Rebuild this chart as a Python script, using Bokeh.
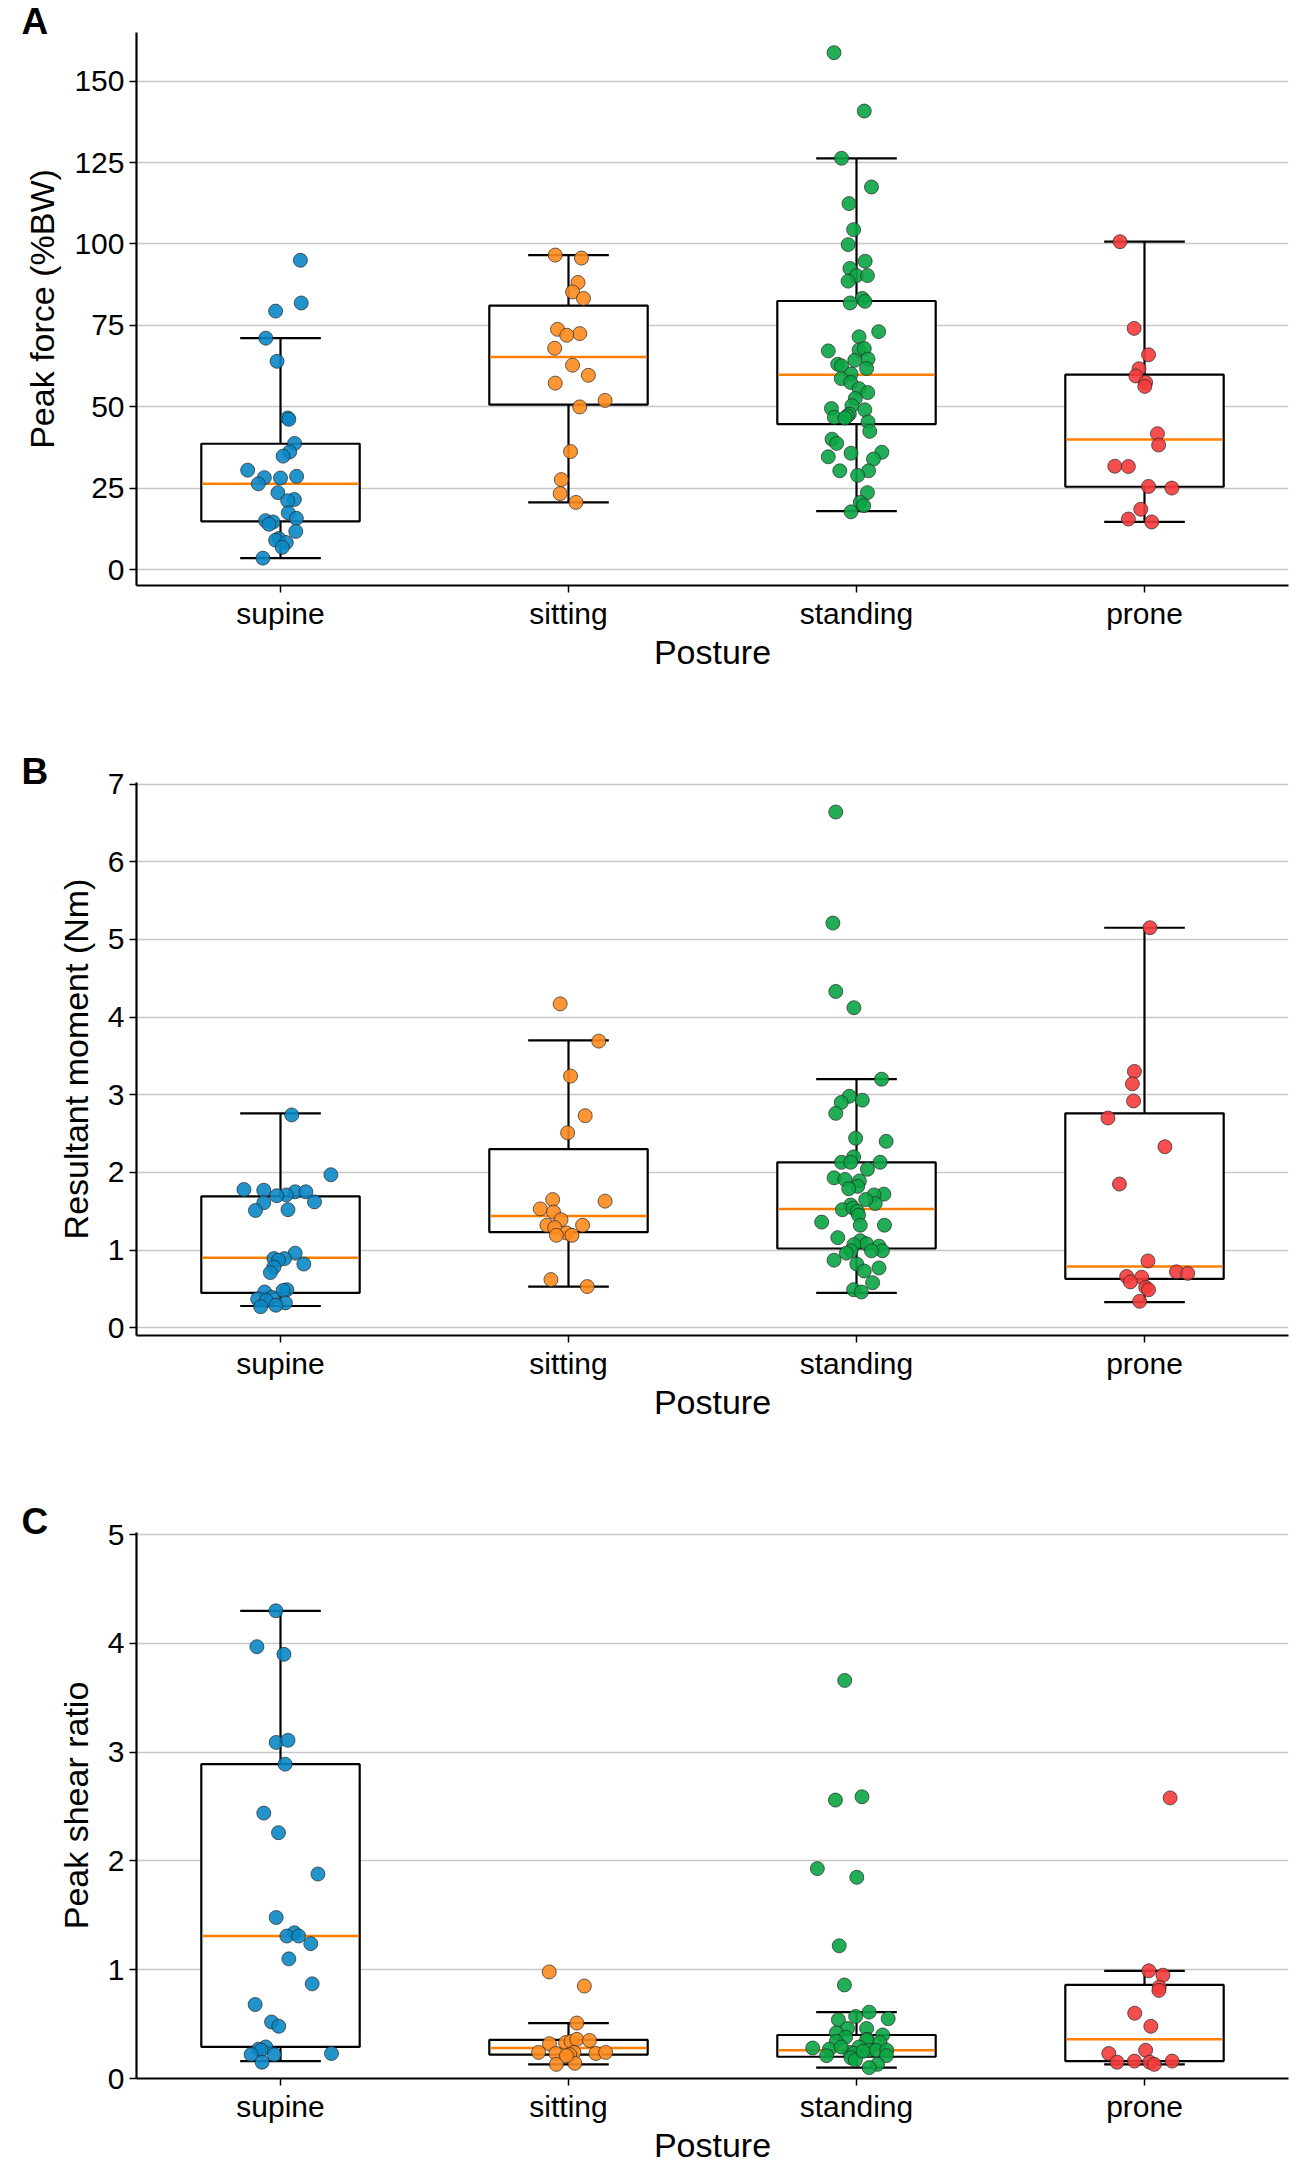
from bokeh.plotting import figure
from bokeh.models import FactorRange, Range1d, FixedTicker, ColumnDataSource, Title
from bokeh.layouts import column
from bokeh.embed import file_html
from bokeh.resources import INLINE

categories = ["supine", "sitting", "standing", "prone"]
colors = ["#0b87c5", "#ff8b1e", "#0aa544", "#f53b3b"]

# ---------------- Panel A: Peak force (%BW) ----------------
force_supine = [95.0, 81.9, 79.4, 71.1, 64.0, 46.6, 46.2, 38.8, 36.2, 34.9, 30.6, 28.3, 28.2, 28.7, 26.4,
                23.7, 21.6, 21.2, 17.5, 15.8, 15.1, 14.7, 14.0, 11.8, 9.6, 9.1, 8.4, 6.9, 3.6]
force_supine_jit = [0.069, 0.072, -0.017, -0.051, -0.012, 0.025, 0.029, 0.049, 0.032, 0.009, -0.114, -0.056, 0.0,
                    0.056, -0.077, -0.009, 0.048, 0.025, 0.027, 0.055, -0.052, -0.026, -0.040, 0.053, -0.006,
                    -0.017, 0.020, 0.006, -0.061]
force_sitting = [96.6, 95.7, 88.2, 85.3, 83.3, 73.8, 72.5, 72.0, 68.0, 62.8, 59.7, 57.3, 52.0, 50.0, 36.3, 27.7,
                 23.4, 20.7]
force_sitting_jit = [-0.046, 0.045, 0.033, 0.014, 0.052, -0.038, 0.039, -0.006, -0.048, 0.014, 0.069, -0.046,
                     0.127, 0.039, 0.007, -0.025, -0.029, 0.026]
force_standing = [158.7, 140.8, 126.3, 117.5, 112.4, 104.4, 99.8, 94.7, 92.5, 90.3, 90.3, 88.6, 83.3, 82.4, 81.9,
                  73.1, 71.5, 67.2, 67.5, 67.9, 64.7, 64.3, 63.1, 62.6, 61.8, 60.1, 58.7, 57.5, 55.6, 54.4, 52.6,
                  50.4, 49.5, 49.1, 47.8, 47.2, 46.8, 46.6, 45.4, 42.5, 40.1, 38.8, 36.1, 35.8, 34.0, 34.7, 30.4,
                  30.4, 29.0, 23.7, 20.7, 19.7, 17.8]
force_standing_jit = [-0.078, 0.027, -0.052, 0.052, -0.026, -0.010, -0.029, 0.030, -0.023, 0.0, 0.038, -0.029,
                      0.020, 0.029, -0.022, 0.077, 0.009, -0.098, 0.009, 0.027, 0.040, -0.006, -0.065, -0.052,
                      0.035, -0.019, -0.053, -0.020, 0.009, 0.039, -0.004, -0.016, -0.087, 0.029, -0.025, -0.032,
                      -0.077, -0.040, 0.040, 0.046, -0.085, -0.069, 0.088, -0.019, 0.059, -0.098, -0.058, 0.042,
                      0.004, 0.038, 0.013, 0.025, -0.019]
force_prone = [100.7, 74.1, 66.0, 61.7, 59.5, 57.5, 56.3, 41.8, 38.3, 31.8, 31.7, 25.6, 25.1, 18.6, 15.6, 14.7]
force_prone_jit = [-0.085, -0.036, 0.014, -0.019, -0.030, 0.004, 0.001, 0.045, 0.049, -0.103, -0.056, 0.014,
                   0.095, -0.013, -0.056, 0.025]
force_q1 = [14.9, 50.7, 44.7, 25.5]
force_med = [26.4, 65.3, 59.9, 40.0]
force_q3 = [38.7, 81.1, 82.5, 59.9]
force_lo = [3.6, 20.7, 18.0, 14.7]
force_hi = [71.1, 96.6, 126.3, 100.7]
force_ticks = [0, 25, 50, 75, 100, 125, 150]

# ---------------- Panel B: Resultant moment (Nm) ----------------
moment_supine = [2.74, 1.97, 1.78, 1.77, 1.75, 1.75, 1.71, 1.70, 1.61, 1.62, 1.51, 1.52, 0.96, 0.89, 0.89, 0.87,
                 0.82, 0.78, 0.71, 0.46, 0.49, 0.48, 0.37, 0.39, 0.35, 0.32, 0.27, 0.29]
moment_supine_jit = [0.039, 0.175, -0.127, -0.058, 0.051, 0.088, 0.020, -0.013, -0.058, 0.118, -0.087, 0.026,
                     0.051, -0.023, 0.014, -0.007, 0.081, -0.023, -0.035, -0.055, 0.022, 0.009, -0.079, -0.030,
                     -0.049, 0.017, -0.069, -0.016]
moment_sitting = [4.17, 3.69, 3.24, 2.73, 2.51, 1.65, 1.63, 1.53, 1.49, 1.39, 1.32, 1.32, 1.29, 1.22, 1.19, 1.19,
                  0.62, 0.53]
moment_sitting_jit = [-0.029, 0.105, 0.007, 0.058, -0.003, -0.055, 0.127, -0.098, -0.052, -0.026, -0.075, 0.049,
                      -0.048, -0.007, 0.012, -0.042, -0.061, 0.065]
moment_standing = [6.64, 5.21, 4.33, 4.12, 3.20, 2.98, 2.90, 2.93, 2.76, 2.44, 2.40, 2.20, 2.13, 2.13, 2.13, 2.04,
                   1.93, 1.91, 1.89, 1.82, 1.79, 1.72, 1.71, 1.60, 1.65, 1.58, 1.52, 1.54, 1.50, 1.45, 1.36, 1.32,
                   1.32, 1.16, 1.12, 1.08, 1.07, 1.05, 0.99, 0.99, 0.99, 0.96, 0.87, 0.82, 0.73, 0.77, 0.58, 0.49,
                   0.46]
moment_standing_jit = [-0.072, -0.082, -0.072, -0.009, 0.087, -0.025, -0.053, 0.020, -0.072, -0.003, 0.103,
                       -0.010, 0.082, -0.052, -0.020, 0.038, -0.078, -0.040, 0.010, 0.004, -0.027, 0.095, 0.061,
                       0.065, 0.032, -0.020, -0.049, -0.012, 0.003, 0.007, -0.121, 0.097, 0.013, -0.065, 0.013,
                       0.035, -0.009, 0.078, 0.090, 0.052, -0.019, -0.035, -0.078, 0.001, 0.027, 0.078, 0.056,
                       -0.010, 0.017]
moment_prone = [5.15, 3.30, 3.14, 2.92, 2.70, 2.33, 1.85, 0.86, 0.72, 0.70, 0.66, 0.65, 0.59, 0.52, 0.49, 0.34]
moment_prone_jit = [0.019, -0.035, -0.042, -0.038, -0.127, 0.071, -0.087, 0.012, 0.111, 0.150, -0.062, -0.010,
                    -0.049, 0.004, 0.014, -0.017]
moment_q1 = [0.45, 1.23, 1.02, 0.63]
moment_med = [0.90, 1.44, 1.53, 0.79]
moment_q3 = [1.69, 2.30, 2.13, 2.76]
moment_lo = [0.28, 0.53, 0.45, 0.33]
moment_hi = [2.76, 3.70, 3.20, 5.15]
moment_ticks = [0, 1, 2, 3, 4, 5, 6, 7]

# ---------------- Panel C: Peak shear ratio ----------------
shear_supine = [4.30, 3.97, 3.90, 3.09, 3.11, 2.89, 2.44, 2.26, 1.88, 1.48, 1.34, 1.31, 1.31, 1.24, 1.10, 0.87,
                0.68, 0.52, 0.48, 0.29, 0.27, 0.26, 0.22, 0.22, 0.23, 0.15]
shear_supine_jit = [-0.016, -0.082, 0.012, -0.015, 0.026, 0.016, -0.058, -0.007, 0.130, -0.015, 0.048, 0.022,
                    0.063, 0.105, 0.029, 0.110, -0.088, -0.031, -0.006, -0.051, -0.076, -0.067, -0.102, -0.022,
                    0.177, -0.064]
shear_sitting = [0.98, 0.85, 0.51, 0.32, 0.33, 0.34, 0.36, 0.35, 0.24, 0.23, 0.24, 0.22, 0.23, 0.24, 0.13, 0.14,
                 0.21]
shear_sitting_jit = [-0.067, 0.055, 0.029, -0.066, -0.010, 0.009, 0.029, 0.073, -0.104, -0.044, 0.019, 0.004,
                     0.095, 0.129, -0.042, 0.022, -0.007]
shear_standing = [3.66, 2.56, 2.59, 1.93, 1.85, 1.22, 0.86, 0.61, 0.57, 0.54, 0.55, 0.46, 0.42, 0.46, 0.40, 0.38,
                  0.36, 0.34, 0.355, 0.33, 0.28, 0.27, 0.29, 0.26, 0.26, 0.26, 0.24, 0.23, 0.21, 0.21, 0.19, 0.17,
                  0.13, 0.10, 0.25, 0.29]
shear_standing_jit = [-0.041, -0.073, 0.019, -0.136, 0.001, -0.060, -0.042, 0.044, -0.003, -0.063, 0.110, -0.031,
                      -0.070, 0.035, 0.091, -0.038, 0.038, -0.070, 0.035, 0.082, -0.152, -0.094, 0.009, 0.042,
                      0.069, 0.105, -0.023, -0.009, -0.104, 0.104, -0.019, -0.004, 0.073, 0.044, 0.023, -0.053]
shear_prone = [2.58, 0.99, 0.95, 0.84, 0.81, 0.60, 0.48, 0.26, 0.23, 0.16, 0.16, 0.15, 0.15, 0.13]
shear_prone_jit = [0.089, 0.015, 0.064, 0.051, 0.050, -0.034, 0.022, 0.004, -0.124, 0.096, -0.035, -0.095, 0.018,
                   0.034]
shear_q1 = [0.29, 0.22, 0.20, 0.16]
shear_med = [1.31, 0.28, 0.26, 0.36]
shear_q3 = [2.89, 0.355, 0.40, 0.86]
shear_lo = [0.16, 0.13, 0.10, 0.13]
shear_hi = [4.30, 0.51, 0.61, 0.99]
shear_ticks = [0, 1, 2, 3, 4, 5]

FONT = "Liberation Sans"
BOX_W = 0.55
CAP_W = 0.28


def letter_title(letter):
    kw = dict(text=letter, align="left", offset=-115, text_font=FONT,
              text_font_size="37px", text_font_style="bold", text_color="black")
    try:
        return Title(standoff=-18, **kw)
    except Exception:
        return Title(standoff=0, **kw)


def make_panel(letter, ylabel, yr, ticks, groups, jits, q1, med, q3, lo, hi, height, border_bottom):
    p = figure(x_range=FactorRange(*categories), y_range=Range1d(*yr), width=1300, height=height,
               output_backend="svg", toolbar_location=None,
               min_border_left=136, min_border_right=12, min_border_top=32, min_border_bottom=border_bottom)
    p.outline_line_color = None
    p.background_fill_color = "white"
    p.xgrid.visible = False
    p.ygrid.grid_line_color = "#c8c8c8"
    p.ygrid.grid_line_width = 1.5
    p.yaxis.ticker = FixedTicker(ticks=ticks)

    for ax in (p.xaxis[0], p.yaxis[0]):
        ax.axis_line_width = 2.2
        ax.axis_line_color = "black"
        ax.major_tick_out = 7
        ax.major_tick_in = 0
        ax.major_tick_line_width = 1.5
        ax.major_tick_line_color = "black"
        ax.minor_tick_line_color = None
        ax.major_label_text_font = FONT
        ax.major_label_text_font_size = "30px"
        ax.major_label_text_color = "black"
        ax.axis_label_text_font = FONT
        ax.axis_label_text_font_size = "34px"
        ax.axis_label_text_font_style = "normal"
        ax.axis_label_text_color = "black"
    p.yaxis.axis_label = ylabel
    p.yaxis.major_label_standoff = 5
    p.yaxis.axis_label_standoff = 10
    p.xaxis.axis_label = "Posture"
    p.xaxis.major_label_standoff = 4
    p.xaxis.axis_label_standoff = 0

    # boxes
    p.vbar(x=categories, bottom=q1, top=q3, width=BOX_W, fill_color="white", line_color="black", line_width=2.2)
    # whisker stems
    p.segment(x0=categories, x1=categories, y0=q3, y1=hi, line_color="black", line_width=2.2)
    p.segment(x0=categories, x1=categories, y0=q1, y1=lo, line_color="black", line_width=2.2)
    # caps
    left_cap = [(c, -CAP_W / 2) for c in categories]
    right_cap = [(c, CAP_W / 2) for c in categories]
    p.segment(x0=left_cap, x1=right_cap, y0=hi, y1=hi, line_color="black", line_width=2.2)
    p.segment(x0=left_cap, x1=right_cap, y0=lo, y1=lo, line_color="black", line_width=2.2)
    # medians
    left_med = [(c, -BOX_W / 2 + 0.004) for c in categories]
    right_med = [(c, BOX_W / 2 - 0.004) for c in categories]
    p.segment(x0=left_med, x1=right_med, y0=med, y1=med, line_color="#ff8000", line_width=2.5)

    # points
    for cat, vals, jit, col in zip(categories, groups, jits, colors):
        src = ColumnDataSource(dict(x=[(cat, j) for j in jit], y=vals))
        p.scatter(x="x", y="y", source=src, size=14, fill_color=col, fill_alpha=0.9,
                  line_color="#2a2a2a", line_width=0.8, line_alpha=0.9)

    p.add_layout(letter_title(letter), "above")
    return p


pA = make_panel("A", "Peak force (%BW)", (-4.8, 164.9), force_ticks,
                [force_supine, force_sitting, force_standing, force_prone],
                [force_supine_jit, force_sitting_jit, force_standing_jit, force_prone_jit],
                force_q1, force_med, force_q3, force_lo, force_hi, 750, 165)
pB = make_panel("B", "Resultant moment (Nm)", (-0.1, 7.02), moment_ticks,
                [moment_supine, moment_sitting, moment_standing, moment_prone],
                [moment_supine_jit, moment_sitting_jit, moment_standing_jit, moment_prone_jit],
                moment_q1, moment_med, moment_q3, moment_lo, moment_hi, 750, 165)
pC = make_panel("C", "Peak shear ratio", (0.0, 5.02), shear_ticks,
                [shear_supine, shear_sitting, shear_standing, shear_prone],
                [shear_supine_jit, shear_sitting_jit, shear_standing_jit, shear_prone_jit],
                shear_q1, shear_med, shear_q3, shear_lo, shear_hi, 666, 81)

layout = column(pA, pB, pC)
open("out.html", "w").write(file_html(layout, INLINE))
